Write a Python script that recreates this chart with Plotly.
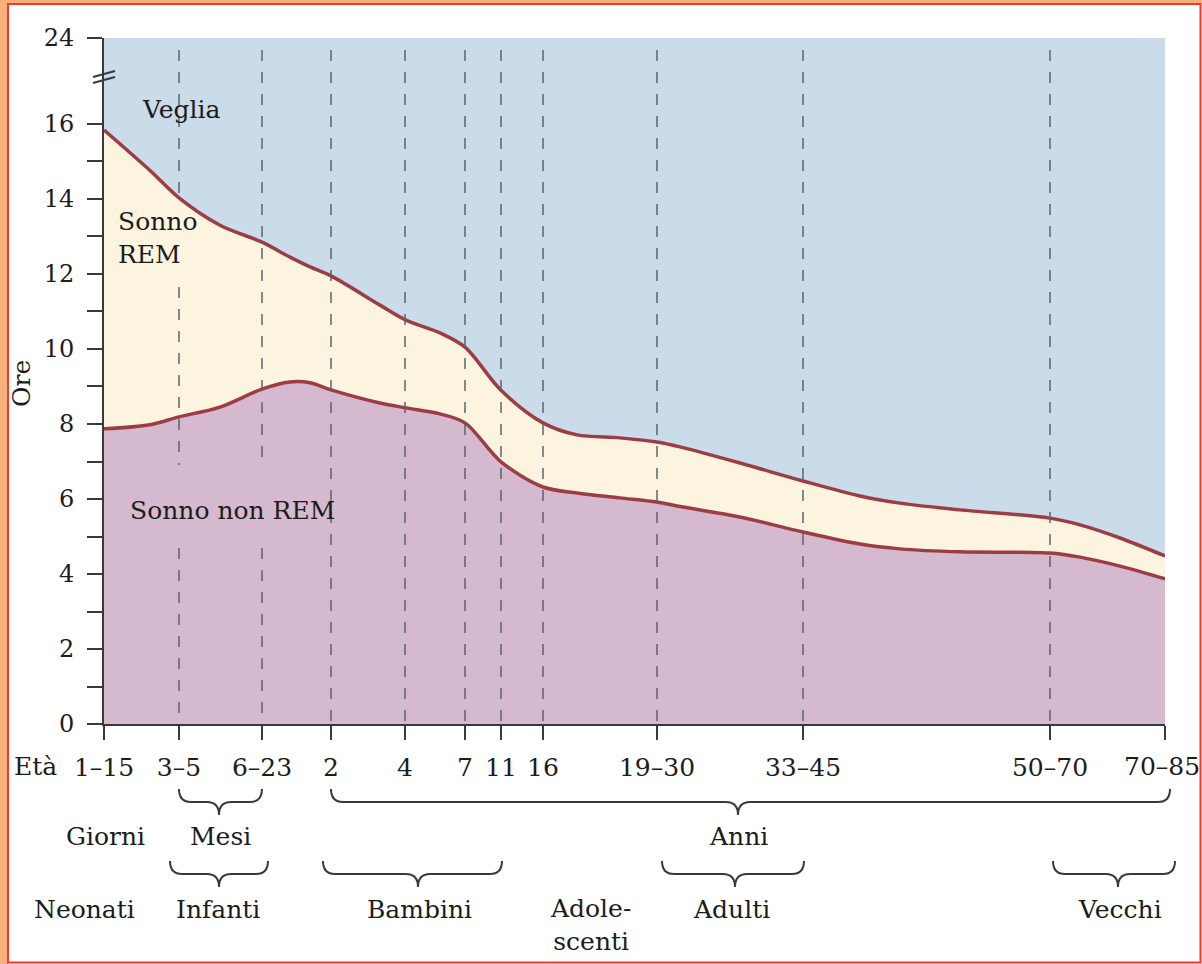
import plotly.graph_objects as go

# ---------------- data ----------------
age_labels = ["1–15", "3–5", "6–23", "2", "4", "7", "11", "16",
              "19–30", "33–45", "50–70", "70–85"]
# position of each age class along the (non-uniform) age axis
age_axis_pos = [0, 75, 158, 227, 301, 361, 397, 439, 553, 699, 946, 1061]

curve_x = [0, 46, 75, 116, 158, 186, 206, 227, 276, 302, 336, 361, 397, 439,
           473, 516, 553, 576, 636, 699, 756, 796, 856, 946, 976, 1016, 1061]
total_sleep = [15.84, 14.76, 14.03, 13.30, 12.85, 12.45, 12.19, 11.95, 11.17,
               10.77, 10.43, 10.05, 8.90, 8.03, 7.71, 7.63, 7.52, 7.39, 6.96,
               6.48, 6.08, 5.89, 5.71, 5.49, 5.31, 4.96, 4.48]
nrem_sleep = [7.87, 7.98, 8.19, 8.45, 8.93, 9.12, 9.10, 8.91, 8.56, 8.43, 8.27,
              8.03, 6.99, 6.32, 6.16, 6.03, 5.92, 5.80, 5.52, 5.12, 4.80, 4.67,
              4.59, 4.56, 4.45, 4.21, 3.87]

y_major = [0, 2, 4, 6, 8, 10, 12, 14, 16]
y_minor = [1, 3, 5, 7, 9, 11, 13, 15]
y_top_value = 18.293  # axis break: this position is labelled 24
y_top_label = "24"

# ---------------- styles ----------------
FONT = "DejaVu Serif"
TXT = "#1c1c1c"
BLUE = "#cadbe9"
CREAM = "#fdf4e0"
PURPLE = "#d5b9cf"
LINE = "#9c3c44"
DASH = "#5a6470"
AXIS = "#3a3a3a"

W, H = 1202, 964
L, R, T, B = 104, 1165, 38, 724  # plot area in pixels


def px(xp):
    return (xp - L) / (R - L)


def py(yp):
    return (B - yp) / (B - T)


fig = go.Figure()
fig.add_trace(go.Scatter(
    x=curve_x, y=nrem_sleep, mode="lines", fill="tozeroy", fillcolor=PURPLE,
    line=dict(color=LINE, width=3.5, shape="spline", smoothing=0.9),
    hoverinfo="skip", showlegend=False))
fig.add_trace(go.Scatter(
    x=curve_x, y=total_sleep, mode="lines", fill="tonexty", fillcolor=CREAM,
    line=dict(color=LINE, width=3.5, shape="spline", smoothing=0.9),
    hoverinfo="skip", showlegend=False))

shapes = []
# dashed vertical guides at inner age classes
gaps = {1: [(50, 198), (287, 465), (548, 724)],
        2: [(50, 465), (548, 724)]}
for i in range(1, len(age_axis_pos) - 1):
    for (a, b) in gaps.get(i, [(50, 724)]):
        shapes.append(dict(type="line", xref="x", yref="paper",
                           x0=age_axis_pos[i], x1=age_axis_pos[i],
                           y0=py(a), y1=py(b),
                           line=dict(color=DASH, width=1.5, dash="11px,11px")))

# axis break marks
for dy in (0, -6):
    shapes.append(dict(type="line", xref="paper", yref="paper",
                       x0=px(93), x1=px(115), y0=py(83 + dy), y1=py(77 + dy),
                       line=dict(color=AXIS, width=2)))


def brace(xa, xb, xc, ytop, ymid, ytip, r=12):
    p = (f"M {px(xa)},{py(ytop)} Q {px(xa)},{py(ymid)} {px(xa + r)},{py(ymid)} "
         f"L {px(xc - r)},{py(ymid)} Q {px(xc)},{py(ymid)} {px(xc)},{py(ytip)} "
         f"Q {px(xc)},{py(ymid)} {px(xc + r)},{py(ymid)} "
         f"L {px(xb - r)},{py(ymid)} Q {px(xb)},{py(ymid)} {px(xb)},{py(ytop)}")
    return dict(type="path", xref="paper", yref="paper", path=p,
                line=dict(color=AXIS, width=2))


row1 = (789, 802, 815)
row2 = (861, 874, 887)
shapes += [
    brace(179, 262, 219, *row1),
    brace(331, 1170, 738, *row1),
    brace(170, 268, 219, *row2),
    brace(323, 502, 418, *row2),
    brace(662, 804, 735, *row2),
    brace(1053, 1175, 1118, *row2),
]

# outer frame
shapes += [
    dict(type="rect", xref="paper", yref="paper", x0=px(0), x1=px(8),
         y0=py(H), y1=py(0), fillcolor="#f8b07a", line=dict(width=0)),
    dict(type="rect", xref="paper", yref="paper", x0=px(0), x1=px(W),
         y0=py(4), y1=py(0), fillcolor="#f8b07a", line=dict(width=0)),
    dict(type="rect", xref="paper", yref="paper", x0=px(8), x1=px(1200.5),
         y0=py(962.5), y1=py(4), line=dict(color="#ee3b2c", width=2)),
]

ann = []


def text(t, xp, yp, size=25, xanchor="center", angle=0, align="center"):
    ann.append(dict(text=t, xref="paper", yref="paper", x=px(xp), y=py(yp),
                    xanchor=xanchor, yanchor="middle", showarrow=False,
                    textangle=angle, align=align,
                    font=dict(family=FONT, size=size, color=TXT)))


text("Veglia", 140, 109, xanchor="left")
text("Sonno<br>REM", 116, 238, xanchor="left", align="left")
text("Sonno non REM", 128, 510, xanchor="left")
text("Ore", 22, 384, angle=-90)
text("Età", 35, 766)
text("Giorni", 105, 836)
text("Mesi", 220, 836)
text("Anni", 738, 836)
text("Neonati", 84, 909)
text("Infanti", 218, 909)
text("Bambini", 419, 909)
text("Adole-<br>scenti", 590, 925)
text("Adulti", 731, 909)
text("Vecchi", 1120, 909)
# last age label, right-aligned so it stays inside the page
text(age_labels[-1], 1202, 766, xanchor="right")

fig.update_layout(
    width=W, height=H, autosize=False,
    margin=dict(l=L, r=W - R, t=T, b=H - B, pad=0),
    paper_bgcolor="white", plot_bgcolor=BLUE,
    shapes=shapes, annotations=ann, showlegend=False,
    xaxis=dict(range=[age_axis_pos[0], age_axis_pos[-1]], tickmode="array",
               tickvals=age_axis_pos,
               ticktext=age_labels[:-1] + [""], showgrid=False,
               zeroline=False, showline=True, linecolor=AXIS, linewidth=2,
               ticks="outside", ticklen=14, tickwidth=2, tickcolor=AXIS,
               ticklabelstandoff=6,
               tickfont=dict(family=FONT, size=25, color=TXT)),
    yaxis=dict(range=[0, y_top_value], tickmode="array",
               tickvals=y_major + [y_top_value],
               ticktext=[str(v) for v in y_major] + [y_top_label],
               showgrid=False, zeroline=False, showline=True, linecolor=AXIS,
               linewidth=2, ticks="outside", ticklen=15, tickwidth=2,
               tickcolor=AXIS, ticklabelstandoff=8,
               minor=dict(tickmode="array", tickvals=y_minor, ticks="outside",
                          ticklen=15, tickwidth=2, tickcolor=AXIS, showgrid=False),
               tickfont=dict(family=FONT, size=24, color=TXT)),
)

fig.write_html("out.html",
               config={"responsive": False, "displayModeBar": False},
               post_script="document.body.style.margin='0px';")
